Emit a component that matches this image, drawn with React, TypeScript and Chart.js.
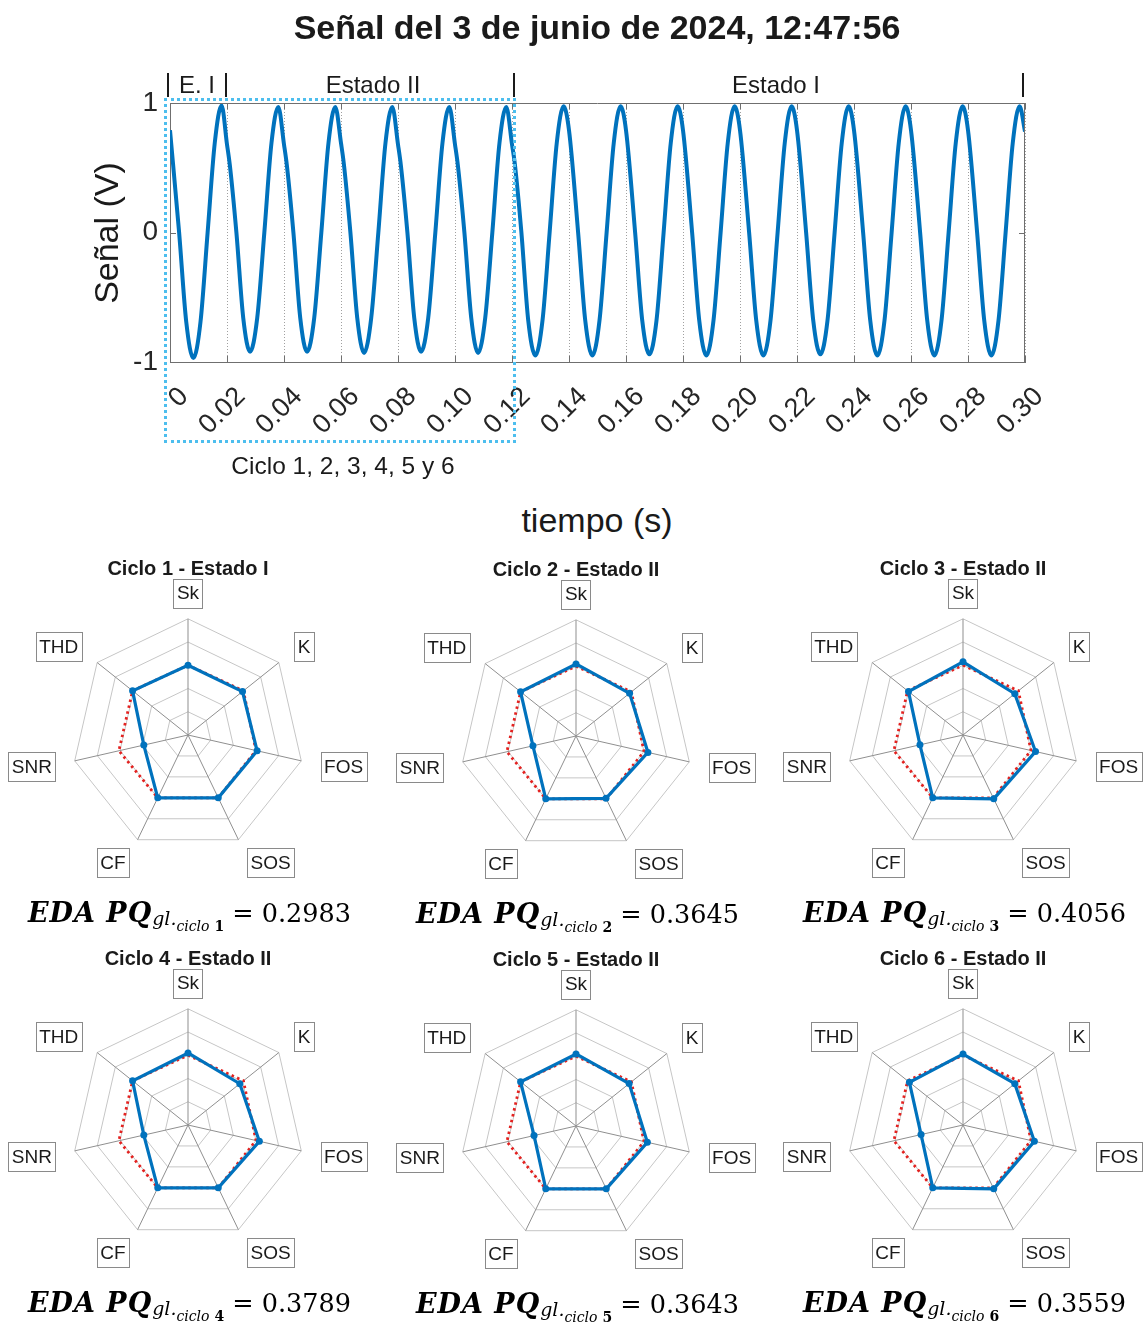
import React, { useEffect, useRef } from "react";
import { Chart, registerables } from "chart.js";

Chart.register(...registerables);

const SANS = '"Liberation Sans", Arial, Helvetica, sans-serif';
const SERIF = '"DejaVu Serif", "Liberation Serif", serif';
const BLUE = "#0072BD";
const RED = "#E3211F";

// ---------- Top chart data: signal (V) vs tiempo (s) ----------
const signalTime = [
  0, 0.0032, 0.0057, 0.0082, 0.0107, 0.0132, 0.0157, 0.0181,
  0.02, 0.021, 0.0233, 0.0257, 0.0281, 0.0306, 0.0331, 0.0356, 0.038,
  0.04, 0.041, 0.0433, 0.0457, 0.0481, 0.0506, 0.0531, 0.0556, 0.058,
  0.06, 0.061, 0.0633, 0.0657, 0.0681, 0.0706, 0.0731, 0.0756, 0.078,
  0.08, 0.081, 0.0833, 0.0857, 0.0881, 0.0906, 0.0931, 0.0956, 0.098,
  0.1, 0.101, 0.1033, 0.1057, 0.1081, 0.1106, 0.1131, 0.1156, 0.118,
  0.12, 0.121, 0.1233, 0.1257, 0.1282, 0.1307, 0.1332, 0.1357, 0.1381,
  0.14, 0.1432, 0.1457, 0.1482, 0.1507, 0.1532, 0.1557, 0.1581,
  0.16, 0.1632, 0.1657, 0.1682, 0.1707, 0.1732, 0.1757, 0.1781,
  0.18, 0.1832, 0.1857, 0.1882, 0.1907, 0.1932, 0.1957, 0.1981,
  0.2, 0.2032, 0.2057, 0.2082, 0.2107, 0.2132, 0.2157, 0.2181,
  0.22, 0.2232, 0.2257, 0.2282, 0.2307, 0.2332, 0.2357, 0.2381,
  0.24, 0.2432, 0.2457, 0.2482, 0.2507, 0.2532, 0.2557, 0.2581,
  0.26, 0.2632, 0.2657, 0.2682, 0.2707, 0.2732, 0.2757, 0.2781,
  0.28, 0.2832, 0.2857, 0.2882, 0.2907, 0.2932, 0.2957, 0.2981,
  0.3,
];
const signalValue = [
  0.79, 0.0, -0.69, -0.97, -0.69, 0.0, 0.69, 0.98,
  0.68, 0.52, 0.0, -0.66, -0.92, -0.66, 0.0, 0.69, 0.97,
  0.68, 0.52, 0.0, -0.66, -0.92, -0.66, 0.0, 0.69, 0.97,
  0.69, 0.53, 0.0, -0.66, -0.93, -0.66, 0.0, 0.69, 0.97,
  0.68, 0.52, 0.0, -0.66, -0.92, -0.66, 0.0, 0.69, 0.97,
  0.68, 0.52, 0.0, -0.66, -0.93, -0.66, 0.0, 0.69, 0.97,
  0.68, 0.53, 0.0, -0.68, -0.95, -0.68, 0.0, 0.69, 0.975,
  0.79, 0.0, -0.68, -0.95, -0.68, 0.0, 0.69, 0.975,
  0.79, 0.0, -0.68, -0.94, -0.68, 0.0, 0.69, 0.975,
  0.79, 0.0, -0.68, -0.95, -0.68, 0.0, 0.69, 0.975,
  0.79, 0.0, -0.68, -0.95, -0.68, 0.0, 0.69, 0.975,
  0.79, 0.0, -0.68, -0.94, -0.68, 0.0, 0.69, 0.975,
  0.79, 0.0, -0.68, -0.95, -0.68, 0.0, 0.69, 0.975,
  0.79, 0.0, -0.68, -0.95, -0.68, 0.0, 0.69, 0.975,
  0.79, 0.0, -0.68, -0.95, -0.68, 0.0, 0.69, 0.975,
  0.78,
];
const xTickValues = [0, 0.02, 0.04, 0.06, 0.08, 0.1, 0.12, 0.14, 0.16, 0.18, 0.2, 0.22, 0.24, 0.26, 0.28, 0.3];
const xTickLabels = ["0", "0.02", "0.04", "0.06", "0.08", "0.10", "0.12", "0.14", "0.16", "0.18", "0.20", "0.22", "0.24", "0.26", "0.28", "0.30"];
const yTickValues = [-1, 0, 1];
const yTickLabels = ["-1", "0", "1"];

// ---------- Radar data ----------
const radarAxes = ["Sk", "K", "FOS", "SOS", "CF", "SNR", "THD"];
const radarRings = [0.2, 0.4, 0.6, 0.8, 1.0];
const referenceProfile = [0.6, 0.61, 0.6, 0.6, 0.6, 0.61, 0.61];
const cycle1 = [0.6, 0.6, 0.61, 0.6, 0.6, 0.39, 0.61];
const cycle2 = [0.62, 0.59, 0.635, 0.595, 0.6, 0.38, 0.61];
const cycle3 = [0.63, 0.57, 0.64, 0.61, 0.6, 0.38, 0.6];
const cycle4 = [0.62, 0.57, 0.63, 0.6, 0.6, 0.39, 0.61];
const cycle5 = [0.62, 0.585, 0.63, 0.6, 0.6, 0.37, 0.61];
const cycle6 = [0.61, 0.57, 0.63, 0.61, 0.6, 0.37, 0.59];
const cycleTitles = [
  "Ciclo 1 - Estado I",
  "Ciclo 2 - Estado II",
  "Ciclo 3 - Estado II",
  "Ciclo 4 - Estado II",
  "Ciclo 5 - Estado II",
  "Ciclo 6 - Estado II",
];
const edaValues = ["0.2983", "0.3645", "0.4056", "0.3789", "0.3643", "0.3559"];

// ---------- layout constants ----------
const TOP_W = 1143;
const TOP_H = 480;
const PLOT_LEFT = 170;
const PLOT_TOP = 103;
const PLOT_RIGHT = 1025;
const PLOT_BOTTOM = 362;
const RADAR_W = 370;
const RADAR_H = 330;
const RADAR_MAX = 1.42;
const radarCenters = [
  [188, 735],
  [576, 736],
  [963, 735],
  [188, 1125],
  [576, 1126],
  [963, 1125],
];

function SignalChart() {
  const ref = useRef<HTMLCanvasElement | null>(null);
  useEffect(() => {
    const canvas = ref.current;
    if (!canvas) return;
    const frame = {
      id: "matlabFrame",
      afterDraw(chart: any) {
        const { ctx, chartArea: a, scales } = chart;
        const xs = scales.x;
        const ys = scales.y;
        ctx.save();
        ctx.strokeStyle = "#6f6f6f";
        ctx.lineWidth = 1;
        ctx.beginPath();
        ctx.moveTo(a.left, a.top + 0.5);
        ctx.lineTo(a.right, a.top + 0.5);
        ctx.moveTo(a.right - 0.5, a.top);
        ctx.lineTo(a.right - 0.5, a.bottom);
        xTickValues.forEach((v) => {
          const px = Math.round(xs.getPixelForValue(v)) + 0.5;
          ctx.moveTo(px, a.bottom);
          ctx.lineTo(px, a.bottom - 6);
          ctx.moveTo(px, a.top);
          ctx.lineTo(px, a.top + 6);
        });
        yTickValues.forEach((v) => {
          const py = Math.round(ys.getPixelForValue(v)) + 0.5;
          ctx.moveTo(a.left, py);
          ctx.lineTo(a.left + 6, py);
          ctx.moveTo(a.right, py);
          ctx.lineTo(a.right - 6, py);
        });
        ctx.stroke();
        ctx.restore();
      },
    };
    const chart = new Chart(canvas, {
      type: "line",
      data: {
        datasets: [
          {
            data: signalTime.map((t, i) => ({ x: t, y: signalValue[i] })),
            borderColor: BLUE,
            borderWidth: 4,
            pointRadius: 0,
            cubicInterpolationMode: "monotone",
            fill: false,
          },
        ],
      },
      options: {
        responsive: false,
        animation: false,
        devicePixelRatio: 1,
        layout: { padding: { left: 0, top: PLOT_TOP, right: TOP_W - PLOT_RIGHT, bottom: 0 } },
        plugins: { legend: { display: false }, tooltip: { enabled: false }, title: { display: false } },
        scales: {
          x: {
            type: "linear",
            min: 0,
            max: 0.3,
            afterBuildTicks: (s: any) => {
              s.ticks = xTickValues.map((v) => ({ value: v }));
            },
            afterFit: (s: any) => {
              s.height = TOP_H - PLOT_BOTTOM;
            },
            ticks: {
              autoSkip: false,
              minRotation: 45,
              maxRotation: 45,
              padding: 19,
              labelOffset: 14,
              color: "#262626",
              font: { family: SANS, size: 27 },
              callback: (_v: any, i: number) => xTickLabels[i],
            },
            grid: { color: "#a0a0a0", lineWidth: 1, drawTicks: false },
            border: { display: true, color: "#6f6f6f", width: 1, dash: [1, 2] },
          },
          y: {
            min: -1,
            max: 1,
            afterBuildTicks: (s: any) => {
              s.ticks = yTickValues.map((v) => ({ value: v }));
            },
            afterFit: (s: any) => {
              s.width = PLOT_LEFT;
            },
            ticks: {
              padding: 12,
              color: "#262626",
              font: { family: SANS, size: 28 },
              callback: (_v: any, i: number) => yTickLabels[i],
            },
            grid: { display: false, drawTicks: false },
            border: { display: true, color: "#6f6f6f", width: 1 },
          },
        },
      },
      plugins: [frame],
    } as any);
    return () => chart.destroy();
  }, []);
  return (
    <canvas
      ref={ref}
      width={TOP_W}
      height={TOP_H}
      style={{ position: "absolute", left: 0, top: 0, width: TOP_W, height: TOP_H }}
    />
  );
}

const radarFrame = {
  id: "radarFrame",
  beforeDatasetsDraw(chart: any) {
    const s = chart.scales.r;
    const ctx = chart.ctx;
    const n = chart.data.labels.length;
    ctx.save();
    ctx.lineWidth = 1;
    ctx.strokeStyle = "#c6c6c6";
    radarRings.forEach((v) => {
      const d = s.getDistanceFromCenterForValue(v);
      ctx.beginPath();
      for (let i = 0; i < n; i++) {
        const p = s.getPointPosition(i, d);
        if (i === 0) ctx.moveTo(p.x, p.y);
        else ctx.lineTo(p.x, p.y);
      }
      ctx.closePath();
      ctx.stroke();
    });
    ctx.strokeStyle = "#8f8f8f";
    const R = s.getDistanceFromCenterForValue(1);
    ctx.beginPath();
    for (let i = 0; i < n; i++) {
      const p = s.getPointPosition(i, R);
      ctx.moveTo(s.xCenter, s.yCenter);
      ctx.lineTo(p.x, p.y);
    }
    ctx.stroke();
    ctx.restore();
  },
  afterDraw(chart: any) {
    const s = chart.scales.r;
    const ctx = chart.ctx;
    const labels: string[] = chart.data.labels;
    const R = s.getDistanceFromCenterForValue(1);
    ctx.save();
    ctx.font = `19px ${SANS}`;
    ctx.textBaseline = "middle";
    ctx.textAlign = "center";
    labels.forEach((lab, i) => {
      const ang = s.getPointPosition(i, R).angle;
      const c = Math.cos(ang);
      const sn = Math.sin(ang);
      const w = ctx.measureText(lab).width + 7;
      const h = 29;
      const ax = s.xCenter + c * R * 1.17;
      let left;
      if (Math.abs(c) < 0.05) left = ax - w / 2;
      else if (c > 0) left = ax;
      else left = ax - w;
      const cy = s.yCenter + sn * R * 1.22;
      ctx.strokeStyle = "#8a8a8a";
      ctx.lineWidth = 1;
      ctx.strokeRect(Math.round(left) + 0.5, Math.round(cy - h / 2) + 0.5, Math.round(w), h);
      ctx.fillStyle = "#1a1a1a";
      ctx.fillText(lab, left + w / 2, cy + 1);
    });
    ctx.restore();
  },
};

function RadarChart({ values, cx, cy }: { values: number[]; cx: number; cy: number }) {
  const ref = useRef<HTMLCanvasElement | null>(null);
  useEffect(() => {
    const canvas = ref.current;
    if (!canvas) return;
    const chart = new Chart(canvas, {
      type: "radar",
      data: {
        labels: radarAxes,
        datasets: [
          {
            data: values,
            borderColor: BLUE,
            backgroundColor: BLUE,
            borderWidth: 3.2,
            pointRadius: 3.5,
            pointBackgroundColor: BLUE,
            pointBorderWidth: 0,
            fill: false,
            order: 0,
          },
          {
            data: referenceProfile,
            borderColor: RED,
            borderWidth: 2.8,
            borderDash: [2.5, 3.5],
            pointRadius: 0,
            fill: false,
            order: 1,
          },
        ],
      },
      options: {
        responsive: false,
        animation: false,
        devicePixelRatio: 1,
        layout: { padding: 0 },
        plugins: { legend: { display: false }, tooltip: { enabled: false } },
        elements: { line: { tension: 0 } },
        scales: {
          r: {
            min: 0,
            max: RADAR_MAX,
            ticks: { display: false },
            grid: { display: false },
            angleLines: { display: false },
            pointLabels: { display: false },
          },
        },
      },
      plugins: [radarFrame],
    } as any);
    return () => chart.destroy();
  }, [values]);
  return (
    <canvas
      ref={ref}
      width={RADAR_W}
      height={RADAR_H}
      style={{
        position: "absolute",
        left: cx - RADAR_W / 2,
        top: cy - RADAR_H / 2,
        width: RADAR_W,
        height: RADAR_H,
      }}
    />
  );
}

function Text({
  x,
  baseline,
  size,
  bold,
  align = "center",
  children,
}: {
  x: number;
  baseline: number;
  size: number;
  bold?: boolean;
  align?: "center" | "left";
  children: React.ReactNode;
}) {
  const top = baseline - 0.8465 * size;
  const style: React.CSSProperties = {
    position: "absolute",
    top,
    fontFamily: SANS,
    fontSize: size,
    lineHeight: `${size}px`,
    fontWeight: bold ? 700 : 400,
    color: "#1a1a1a",
    whiteSpace: "nowrap",
  };
  if (align === "center") {
    style.left = x - 400;
    style.width = 800;
    style.textAlign = "center";
  } else {
    style.left = x;
  }
  return <div style={style}>{children}</div>;
}

function EdaFormula({ left, baseline, index, value }: { left: number; baseline: number; index: number; value: string }) {
  const fs = 25.5;
  return (
    <div
      style={{
        position: "absolute",
        left,
        top: baseline - 0.846 * fs,
        fontFamily: SERIF,
        fontSize: fs,
        lineHeight: `${fs}px`,
        whiteSpace: "nowrap",
        color: "#000",
      }}
    >
      <span style={{ fontWeight: 700, fontStyle: "italic", fontSize: 27, letterSpacing: "1px" }}>EDA PQ</span>
      <span style={{ fontStyle: "italic", fontSize: 19, position: "relative", top: 3 }}>gl.</span>
      <span style={{ fontStyle: "italic", fontSize: 14, position: "relative", top: 9 }}>ciclo</span>
      <span style={{ fontWeight: 700, fontSize: 14, position: "relative", top: 9 }}>{" " + index}</span>
      <span>{" = " + value}</span>
    </div>
  );
}

function Bar({ x }: { x: number }) {
  return <div style={{ position: "absolute", left: x - 1, top: 73, width: 2, height: 24, background: "#1a1a1a" }} />;
}

export default function App() {
  const cycles = [cycle1, cycle2, cycle3, cycle4, cycle5, cycle6];
  return (
    <div
      style={{
        position: "absolute",
        left: 0,
        top: 0,
        width: 1143,
        height: 1326,
        overflow: "hidden",
        background: "#ffffff",
      }}
    >
      <SignalChart />
      <Text x={597} baseline={39} size={34} bold>
        Señal del 3 de junio de 2024, 12:47:56
      </Text>
      <Bar x={168} />
      <Bar x={226} />
      <Bar x={514} />
      <Bar x={1023} />
      <Text x={179} baseline={93} size={24} align="left">
        E. I
      </Text>
      <Text x={373} baseline={93} size={24}>
        Estado II
      </Text>
      <Text x={776} baseline={93} size={24}>
        Estado I
      </Text>
      <div
        style={{
          position: "absolute",
          left: 163.5,
          top: 98,
          width: 352,
          height: 344.5,
          boxSizing: "border-box",
          border: "3px dotted #4DBEEE",
        }}
      />
      <Text x={343} baseline={475} size={24.5}>
        Ciclo 1, 2, 3, 4, 5 y 6
      </Text>
      <Text x={597} baseline={532} size={34}>
        tiempo (s)
      </Text>
      <div
        style={{
          position: "absolute",
          left: 105.5 - 150,
          top: 233 - 17,
          width: 300,
          height: 34,
          lineHeight: "34px",
          fontSize: 34,
          fontFamily: SANS,
          textAlign: "center",
          color: "#1a1a1a",
          transform: "rotate(-90deg)",
          transformOrigin: "50% 50%",
          whiteSpace: "nowrap",
        }}
      >
        Señal (V)
      </div>
      {cycles.map((vals, i) => (
        <RadarChart key={"r" + i} values={vals} cx={radarCenters[i][0]} cy={radarCenters[i][1]} />
      ))}
      {cycleTitles.map((t, i) => (
        <Text key={"t" + i} x={radarCenters[i][0]} baseline={radarCenters[i][1] - 160} size={20} bold>
          {t}
        </Text>
      ))}
      {edaValues.map((v, i) => (
        <EdaFormula
          key={"f" + i}
          left={radarCenters[i][0] - 160}
          baseline={radarCenters[i][1] + 187}
          index={i + 1}
          value={v}
        />
      ))}
    </div>
  );
}
